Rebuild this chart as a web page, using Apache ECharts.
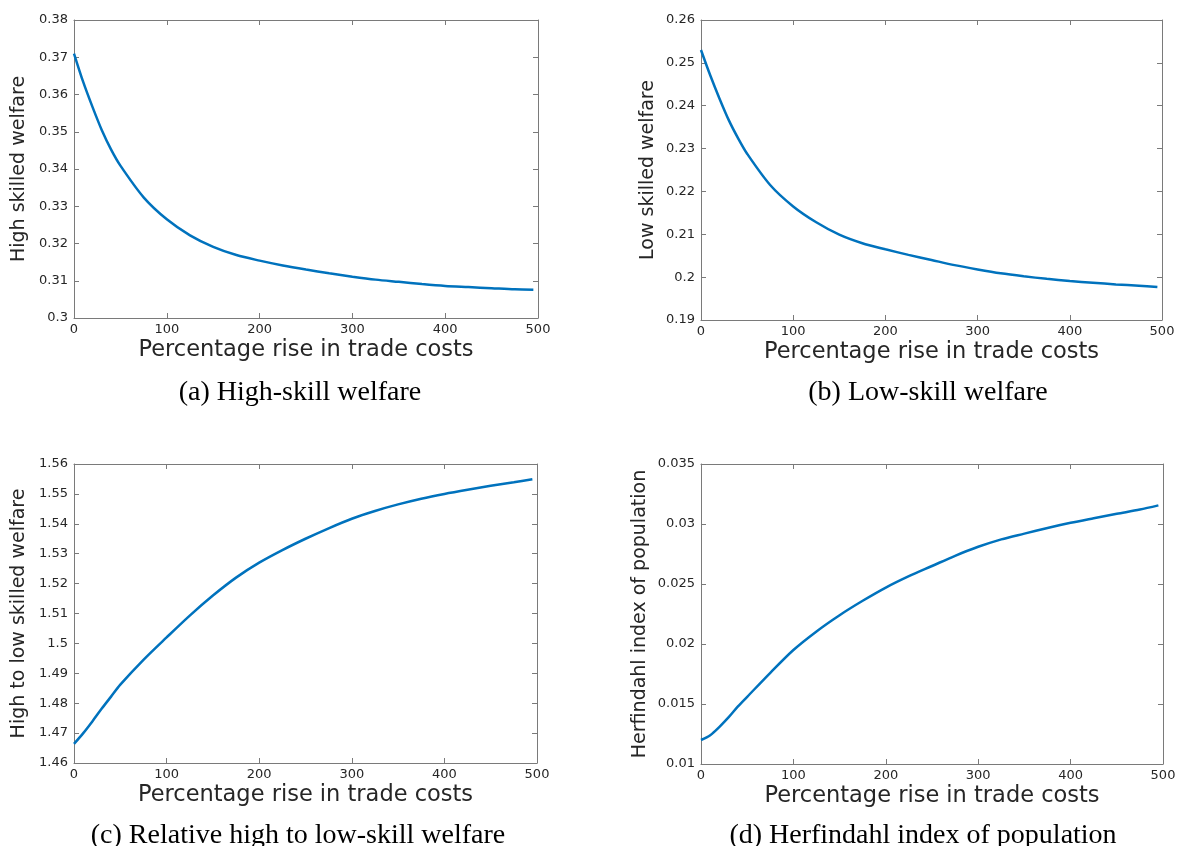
<!DOCTYPE html>
<html>
<head>
<meta charset="utf-8">
<script src="https://cdn.jsdelivr.net/npm/echarts@6/dist/echarts.min.js"></script>
<style>
  html, body { margin: 0; padding: 0; background: #fff; }
  #main { width: 1180px; height: 846px; }
</style>
</head>
<body>
<div id="main"></div>
<script>
// percentage rise in trade costs (x values)
let costs = [0, 10, 20, 30, 40, 50, 75, 100, 125, 150, 175, 200, 225, 250, 275, 300, 325, 350, 375, 400, 425, 450, 475, 495];

let highWelfare = [0.3710, 0.3633, 0.3566, 0.3504, 0.3452, 0.3409, 0.3324, 0.3265, 0.3222, 0.3191, 0.3169, 0.3154,
                   0.3141, 0.3130, 0.3120, 0.3111, 0.3103, 0.3097, 0.3091, 0.3086, 0.3083, 0.3080, 0.3077, 0.3076];
let lowWelfare = [0.2530, 0.2471, 0.2417, 0.2367, 0.2325, 0.2288, 0.2215, 0.2165, 0.2128, 0.2099, 0.2079, 0.2065,
                  0.2052, 0.2040, 0.2028, 0.2018, 0.2009, 0.2002, 0.1996, 0.1991, 0.1987, 0.1983, 0.1980, 0.1977];
let relWelfare = [1.4664, 1.4700, 1.4740, 1.4782, 1.4822, 1.4862, 1.4945, 1.5020, 1.5093, 1.5160, 1.5220, 1.5270,
                  1.5312, 1.5350, 1.5385, 1.5417, 1.5443, 1.5465, 1.5484, 1.5500, 1.5514, 1.5527, 1.5539, 1.5549];
let herfindahl = [0.0120, 0.01240, 0.0131, 0.0139, 0.0148, 0.0156, 0.0176, 0.0195, 0.02105, 0.0224, 0.0236, 0.0247,
                  0.02565, 0.0265, 0.02735, 0.0281, 0.02872, 0.0292, 0.02967, 0.0301, 0.03048, 0.03085, 0.0312, 0.03155];

// axis ranges [min, max, step]
let xRange = [0, 500, 100];
let highRange = [0.30, 0.38, 0.01];
let lowRange = [0.19, 0.26, 0.01];
let relRange = [1.46, 1.56, 0.01];
let herfRange = [0.010, 0.035, 0.005];

let xName = 'Percentage rise in trade costs';
let panels = [
    {ys: highWelfare, range: highRange, yName: 'High skilled welfare', caption: '(a) High-skill welfare',
     grid: {left: 74, top: 20, width: 464, height: 298}, nameGap: 45, capX: 295, capTop: 374},
    {ys: lowWelfare, range: lowRange, yName: 'Low skilled welfare', caption: '(b) Low-skill welfare',
     grid: {left: 701, top: 20, width: 461, height: 300}, nameGap: 43, capX: 923, capTop: 374},
    {ys: relWelfare, range: relRange, yName: 'High to low skilled welfare', caption: '(c) Relative high to low-skill welfare',
     grid: {left: 74, top: 464, width: 463, height: 299}, nameGap: 45, capX: 293, capTop: 817},
    {ys: herfindahl, range: herfRange, yName: 'Herfindahl index of population', caption: '(d) Herfindahl index of population',
     grid: {left: 701, top: 464, width: 462, height: 300}, nameGap: 51, capX: 918, capTop: 817},
];

let axisColor = '#7a7a7a';
let textColor = '#262626';
let tickFont = {color: textColor, fontSize: 13, fontFamily: 'DejaVu Sans'};

let myChart = echarts.init(document.getElementById('main'), null, {renderer: 'canvas'});

let grids = [], xAxes = [], yAxes = [], series = [], titles = [];
panels.forEach((p, i) => {
    grids.push(Object.assign({containLabel: false}, p.grid));
    let commonX = {
        type: 'value', gridIndex: i, min: xRange[0], max: xRange[1], interval: xRange[2],
        splitLine: {show: false},
        axisLine: {show: true, onZero: false, lineStyle: {color: axisColor, width: 1}},
        axisTick: {show: true, inside: true, length: 5, lineStyle: {color: axisColor}},
    };
    let commonY = {
        type: 'value', gridIndex: i, min: p.range[0], max: p.range[1], interval: p.range[2],
        splitLine: {show: false},
        axisLine: {show: true, onZero: false, lineStyle: {color: axisColor, width: 1}},
        axisTick: {show: true, inside: true, length: 5, lineStyle: {color: axisColor}},
    };
    // bottom / left axes carry labels
    xAxes.push(Object.assign({}, commonX, {
        position: 'bottom',
        axisLabel: Object.assign({margin: 5}, tickFont),
        name: xName, nameLocation: 'middle', nameGap: 21,
        nameTextStyle: {color: textColor, fontSize: 22.5, fontFamily: 'DejaVu Sans'}
    }));
    yAxes.push(Object.assign({}, commonY, {
        position: 'left',
        axisLabel: Object.assign({margin: 6}, tickFont),
        name: p.yName, nameLocation: 'middle', nameGap: p.nameGap,
        nameTextStyle: {color: textColor, fontSize: 19, fontFamily: 'DejaVu Sans'}
    }));
    // top / right axes only draw box ticks
    xAxes.push(Object.assign({}, commonX, {position: 'top', axisLabel: {show: false}}));
    yAxes.push(Object.assign({}, commonY, {position: 'right', axisLabel: {show: false}}));

    series.push({
        type: 'line',
        xAxisIndex: i * 2,
        yAxisIndex: i * 2,
        data: costs.map((c, k) => [c, p.ys[k]]),
        smooth: 0.3,
        showSymbol: false,
        lineStyle: {color: '#0072BD', width: 2.5},
        itemStyle: {color: '#0072BD'},
        silent: true
    });

    titles.push({
        text: p.caption,
        left: p.capX,
        top: p.capTop,
        textAlign: 'center',
        textStyle: {color: '#000', fontSize: 28, fontWeight: 'normal', fontFamily: 'Liberation Serif'}
    });
});

myChart.setOption({
    backgroundColor: '#fff',
    animation: false,
    title: titles,
    grid: grids,
    xAxis: xAxes,
    yAxis: yAxes,
    series: series
});
</script>
</body>
</html>
